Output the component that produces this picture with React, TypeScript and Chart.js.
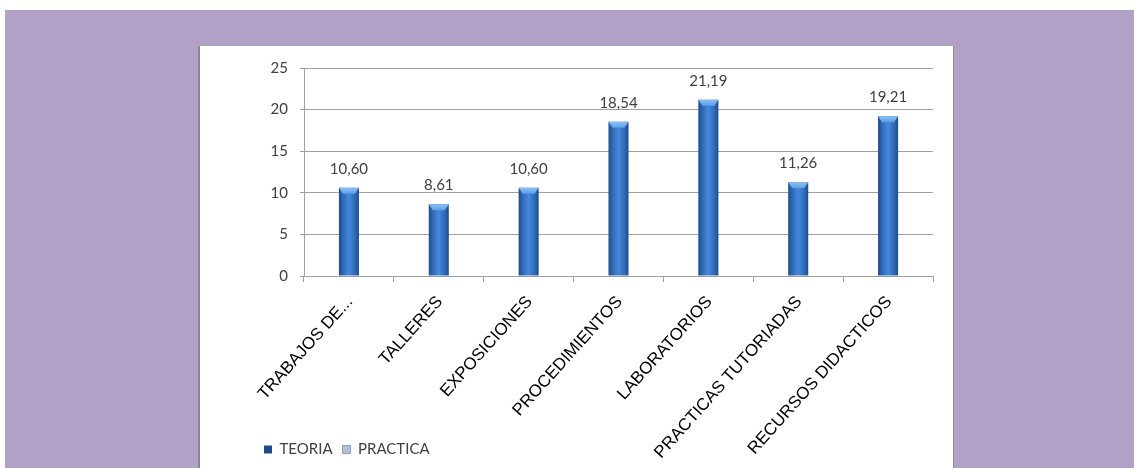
import React, { useEffect, useRef } from "react";
import { Chart, registerables } from "chart.js";

Chart.register(...registerables);

const categories = [
  "TRABAJOS DE...",
  "TALLERES",
  "EXPOSICIONES",
  "PROCEDIMIENTOS",
  "LABORATORIOS",
  "PRACTICAS TUTORIADAS",
  "RECURSOS DIDACTICOS",
];
const teoria = [10.6, 8.61, 10.6, 18.54, 21.19, 11.26, 19.21];
const practica: (number | null)[] = [null, null, null, null, null, null, null];
const yMin = 0;
const yMax = 25;
const yStep = 5;

const BAR_PCT = 0.223;
const GRID = "#a0a0a0";

export default function App() {
  const ref = useRef<HTMLCanvasElement>(null);

  useEffect(() => {
    const canvas = ref.current;
    if (!canvas) return;

    const barGradient = (ctx: any) => {
      const chart = ctx.chart;
      const xs = chart.scales && chart.scales.x;
      if (ctx.type !== "data" || !xs || !xs.width) return "#3874c4";
      const cx = xs.getPixelForValue(ctx.dataIndex);
      const w = (xs.width / categories.length) * BAR_PCT;
      const g = chart.ctx.createLinearGradient(cx - w / 2, 0, cx + w / 2, 0);
      g.addColorStop(0, "#1e4c8a");
      g.addColorStop(0.2, "#3069b4");
      g.addColorStop(0.5, "#4489dc");
      g.addColorStop(0.8, "#3069b4");
      g.addColorStop(1, "#1e4c8a");
      return g;
    };

    const extendAxis = {
      id: "extendAxis",
      afterLayout(chart: any) {
        const xs = chart.scales.x;
        if (xs) {
          xs.bottom = chart.height;
        }
      },
    };

    const decor = {
      id: "barDecor",
      afterDatasetsDraw(chart: any) {
        const meta = chart.getDatasetMeta(0);
        const c = chart.ctx;
        meta.data.forEach((el: any, i: number) => {
          const { x, y, width } = el.getProps(["x", "y", "width"], true);
          c.save();
          const cap = c.createLinearGradient(0, y, 0, y + 6);
          cap.addColorStop(0, "#8cc0f4");
          cap.addColorStop(1, "#5e9ee6");
          c.fillStyle = cap;
          c.beginPath();
          c.moveTo(x - width / 2, y);
          c.lineTo(x + width / 2, y);
          c.lineTo(x + width / 2 - 4, y + 6);
          c.lineTo(x - width / 2 + 4, y + 6);
          c.closePath();
          c.fill();
          c.fillStyle = "#404040";
          c.font = "15px Lato";
          c.textAlign = "center";
          c.textBaseline = "alphabetic";
          c.fillText(teoria[i].toFixed(2).replace(".", ","), x, y - 14);
          c.restore();
        });
      },
    };

    const chart = new Chart(canvas, {
      type: "bar",
      data: {
        labels: categories,
        datasets: [
          {
            label: "TEORIA",
            data: teoria,
            backgroundColor: barGradient as any,
            borderWidth: 0,
            categoryPercentage: 1,
            barPercentage: BAR_PCT,
            grouped: false,
          } as any,
          {
            label: "PRACTICA",
            data: practica,
            backgroundColor: "#b4c0da",
            borderColor: "#8e9cbc",
            borderWidth: 1,
            categoryPercentage: 1,
            barPercentage: BAR_PCT,
            grouped: false,
          } as any,
        ],
      },
      options: {
        responsive: false,
        animation: false,
        devicePixelRatio: 1,
        layout: { padding: { left: 54, right: 19, top: 22, bottom: 1 } },
        plugins: {
          legend: {
            position: "bottom",
            align: "start",
            labels: {
              boxWidth: 8,
              boxHeight: 8,
              padding: 10,
              color: "#404040",
              font: { family: "Lato", size: 15 },
            },
          },
          tooltip: { enabled: false },
          title: { display: false },
        },
        scales: {
          x: {
            grid: {
              display: true,
              drawOnChartArea: false,
              drawTicks: true,
              tickLength: 6,
              color: GRID,
            },
            border: { display: true, color: GRID },
            ticks: {
              minRotation: 48,
              maxRotation: 48,
              autoSkip: false,
              padding: 10,
              labelOffset: 1,
              color: "#000000",
              font: { family: "'Liberation Sans', Arial", size: 17 },
            },
            afterFit: (s: any) => {
              s.height = 156;
            },
          },
          y: {
            min: yMin,
            max: yMax,
            ticks: {
              stepSize: yStep,
              padding: 12,
              color: "#404040",
              font: { family: "Lato", size: 15 },
            },
            grid: { color: GRID, tickLength: 4 },
            border: { display: true, color: GRID },
            afterFit: (s: any) => {
              s.width = 50;
            },
          },
        },
      },
      plugins: [extendAxis, decor],
    });

    return () => chart.destroy();
  }, []);

  return (
    <div
      style={{
        position: "absolute",
        left: 0,
        top: 0,
        width: 1134,
        height: 468,
        background: "#ffffff",
        overflow: "hidden",
      }}
    >
      <div
        style={{
          position: "absolute",
          left: 5,
          top: 10,
          right: 0,
          bottom: 0,
          background: "#b1a1c7",
        }}
      />
      <div
        style={{
          position: "absolute",
          left: 198,
          top: 46,
          width: 753,
          height: 430,
          background: "#ffffff",
          borderLeft: "2px solid #8a8a8a",
          borderRight: "1px solid #8a8a8a",
        }}
      />
      <div style={{ position: "absolute", left: 200, top: 46, width: 752, height: 422 }}>
        <canvas ref={ref} width={752} height={422} />
      </div>
    </div>
  );
}
